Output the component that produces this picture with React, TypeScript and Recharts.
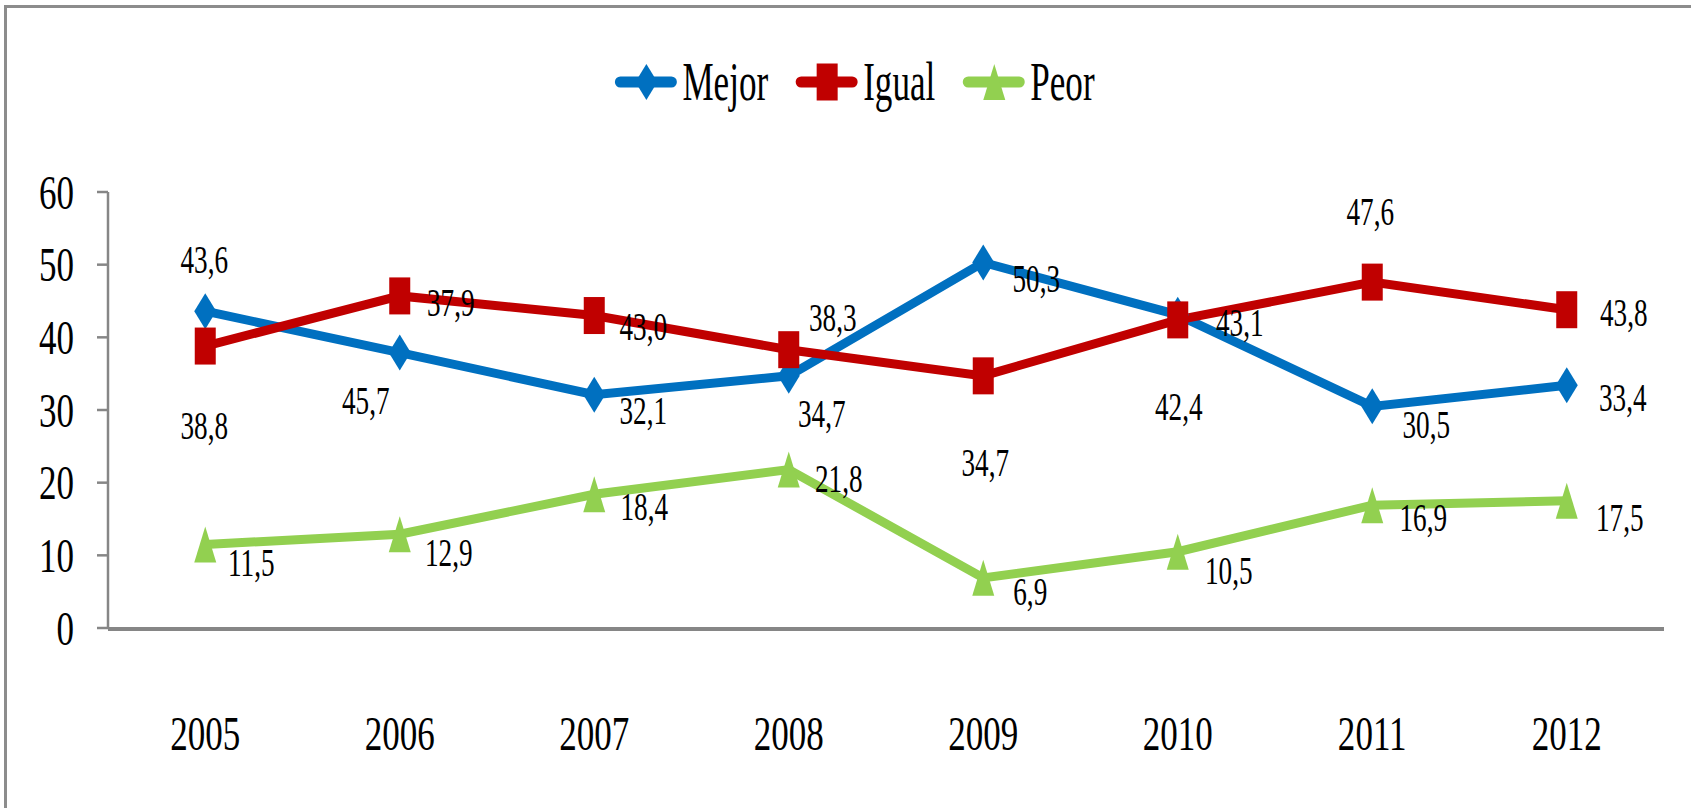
import React from 'react'
import { LineChart, Line, XAxis, YAxis, Legend, LabelList } from 'recharts'

const years = ['2005', '2006', '2007', '2008', '2009', '2010', '2011', '2012']
const mejor = [43.6, 37.9, 32.1, 34.7, 50.3, 43.1, 30.5, 33.4]
const igual = [38.8, 45.7, 43.0, 38.3, 34.7, 42.4, 47.6, 43.8]
const peor = [11.5, 12.9, 18.4, 21.8, 6.9, 10.5, 16.9, 17.5]
const yTicks = [0, 10, 20, 30, 40, 50, 60]

// where each value label sits, relative to its own point (px)
const mejorLabelPos = [[-1, -52], [51, -51], [49, 15], [33, 37], [53, 15], [62, 7], [54, 18], [56, 12]]
const igualLabelPos = [[-1, 79], [-34, 104], [49, 10], [44, -33], [2, 86], [1, 86], [-2, -71], [57, 2]]
const peorLabelPos = [[46, 18], [49, 18], [50, 12], [50, 8], [47, 13], [51, 18], [51, 12], [53, 16]]

const BLUE = '#0070C0'
const RED = '#C00000'
const GREEN = '#92D050'
const AXIS = '#868686'
const FONT = '"Liberation Serif", serif'

const data = years.map((year, i) => ({ year, mejor: mejor[i], igual: igual[i], peor: peor[i] }))
const boundaries = [...years.map((_, i) => i), years.length]

const fmt = (v: number) => Number(v).toFixed(1).replace('.', ',')

const seriesOrder = ['mejor', 'igual', 'peor']
const shapes: Record<string, string> = { mejor: 'diamond', igual: 'square', peor: 'triangle' }

const Marker = ({ cx, cy, shape, color }: any) => {
  if (shape === 'diamond')
    return <polygon points={`${cx},${cy - 18} ${cx + 11},${cy} ${cx},${cy + 18} ${cx - 11},${cy}`} fill={color} />
  if (shape === 'square') return <rect x={cx - 10.5} y={cy - 18.5} width={21} height={37} fill={color} />
  return <polygon points={`${cx},${cy - 18} ${cx + 11},${cy + 18} ${cx - 11},${cy + 18}`} fill={color} />
}

// the original font is tall and narrow, so squeeze Liberation Serif horizontally
const NarrowText = ({ x, y, size, scale, anchor, dy, children }: any) => (
  <text
    transform={`translate(${x},${y}) scale(${scale},1)`}
    textAnchor={anchor}
    fontSize={size}
    fontFamily={FONT}
    fill="#000"
    dy={dy}
  >
    {children}
  </text>
)

const valueLabel = (pos: number[][]) => (p: any) => {
  const px = p.x ?? p.viewBox?.x
  const py = p.y ?? p.viewBox?.y
  const [dx, dy] = pos[p.index] ?? [0, 0]
  return (
    <NarrowText key={p.index} x={px + dx} y={py + dy} size={40} scale={0.68} anchor="middle" dy="0.35em">
      {fmt(p.value)}
    </NarrowText>
  )
}

const dotOf = (shape: string, color: string) => (p: any) => (
  <Marker key={p.index} cx={p.cx} cy={p.cy} shape={shape} color={color} />
)

let measureCtx: CanvasRenderingContext2D | null = null
const measure = (text: string, size: number) => {
  if (!measureCtx) measureCtx = document.createElement('canvas').getContext('2d')
  if (!measureCtx) return text.length * size * 0.5
  measureCtx.font = `${size}px "Liberation Serif"`
  return measureCtx.measureText(text).width
}

const LegendContent = ({ payload }: any) => {
  const items = [...(payload ?? [])].sort(
    (a: any, b: any) => seriesOrder.indexOf(a.dataKey) - seriesOrder.indexOf(b.dataKey)
  )
  const textScale = 0.65
  const widths = items.map((it: any) => 61 + 6 + measure(String(it.value), 54) * textScale)
  const gap = 28
  const total = widths.reduce((a: number, b: number) => a + b, 0) + gap * (items.length - 1)
  let x = 855 - total / 2
  return (
    <svg width={1691} height={70} style={{ display: 'block' }}>
      {items.map((it: any, i: number) => {
        const x0 = x
        x += widths[i] + gap
        return (
          <g key={it.value}>
            <line x1={x0 + 5} x2={x0 + 56} y1={30} y2={30} stroke={it.color} strokeWidth={11} strokeLinecap="round" />
            <Marker cx={x0 + 31} cy={30} shape={shapes[it.dataKey]} color={it.color} />
            <NarrowText x={x0 + 67} y={48} size={54} scale={textScale} anchor="start">
              {it.value}
            </NarrowText>
          </g>
        )
      })}
    </svg>
  )
}

export default function App() {
  return (
    <div style={{ position: 'absolute', left: 0, top: 0, width: 1691, height: 808, overflow: 'hidden', background: '#fff' }}>
      <div
        style={{
          position: 'absolute',
          left: 4,
          top: 5,
          width: 1800,
          height: 900,
          borderTop: '3px solid #8c8c8c',
          borderLeft: '3px solid #8c8c8c',
        }}
      />
      <div style={{ position: 'absolute', left: 0, top: 0 }}>
        <LineChart width={1691} height={808} data={data} margin={{ top: 192, right: 27, bottom: 178, left: 0 }}>
          <Legend
            content={<LegendContent />}
            verticalAlign="middle"
            align="center"
            wrapperStyle={{ top: 52, left: 0, width: 1691 }}
          />
          <YAxis
            domain={[0, 60]}
            ticks={yTicks}
            width={108}
            tickSize={11}
            tickMargin={23}
            axisLine={{ stroke: AXIS, strokeWidth: 2.5 }}
            tickLine={{ stroke: AXIS, strokeWidth: 2.5 }}
            tick={(p: any) => (
              <NarrowText key={p.index} x={p.x} y={p.y} size={48} scale={0.73} anchor="end" dy="0.35em">
                {p.payload.value}
              </NarrowText>
            )}
          />
          <XAxis
            xAxisId="sep"
            type="number"
            domain={[0, years.length]}
            ticks={boundaries}
            allowDataOverflow
            height={1}
            tickSize={21}
            tick={false}
            axisLine={{ stroke: AXIS, strokeWidth: 4 }}
            tickLine={{ stroke: AXIS, strokeWidth: 2.5 }}
          />
          <XAxis
            xAxisId="cat"
            dataKey="year"
            scale="band"
            height={1}
            interval={0}
            axisLine={false}
            tickLine={false}
            tickSize={0}
            tickMargin={122}
            tick={(p: any) => (
              <NarrowText key={p.index} x={p.x} y={p.y} size={48} scale={0.73} anchor="middle">
                {p.payload.value}
              </NarrowText>
            )}
          />
          <Line
            xAxisId="cat"
            type="linear"
            dataKey="mejor"
            name="Mejor"
            stroke={BLUE}
            strokeWidth={9}
            dot={dotOf('diamond', BLUE)}
            activeDot={false}
            isAnimationActive={false}
          >
            <LabelList dataKey="mejor" content={valueLabel(mejorLabelPos)} />
          </Line>
          <Line
            xAxisId="cat"
            type="linear"
            dataKey="igual"
            name="Igual"
            stroke={RED}
            strokeWidth={9}
            dot={dotOf('square', RED)}
            activeDot={false}
            isAnimationActive={false}
          >
            <LabelList dataKey="igual" content={valueLabel(igualLabelPos)} />
          </Line>
          <Line
            xAxisId="cat"
            type="linear"
            dataKey="peor"
            name="Peor"
            stroke={GREEN}
            strokeWidth={9}
            dot={dotOf('triangle', GREEN)}
            activeDot={false}
            isAnimationActive={false}
          >
            <LabelList dataKey="peor" content={valueLabel(peorLabelPos)} />
          </Line>
        </LineChart>
      </div>
    </div>
  )
}
